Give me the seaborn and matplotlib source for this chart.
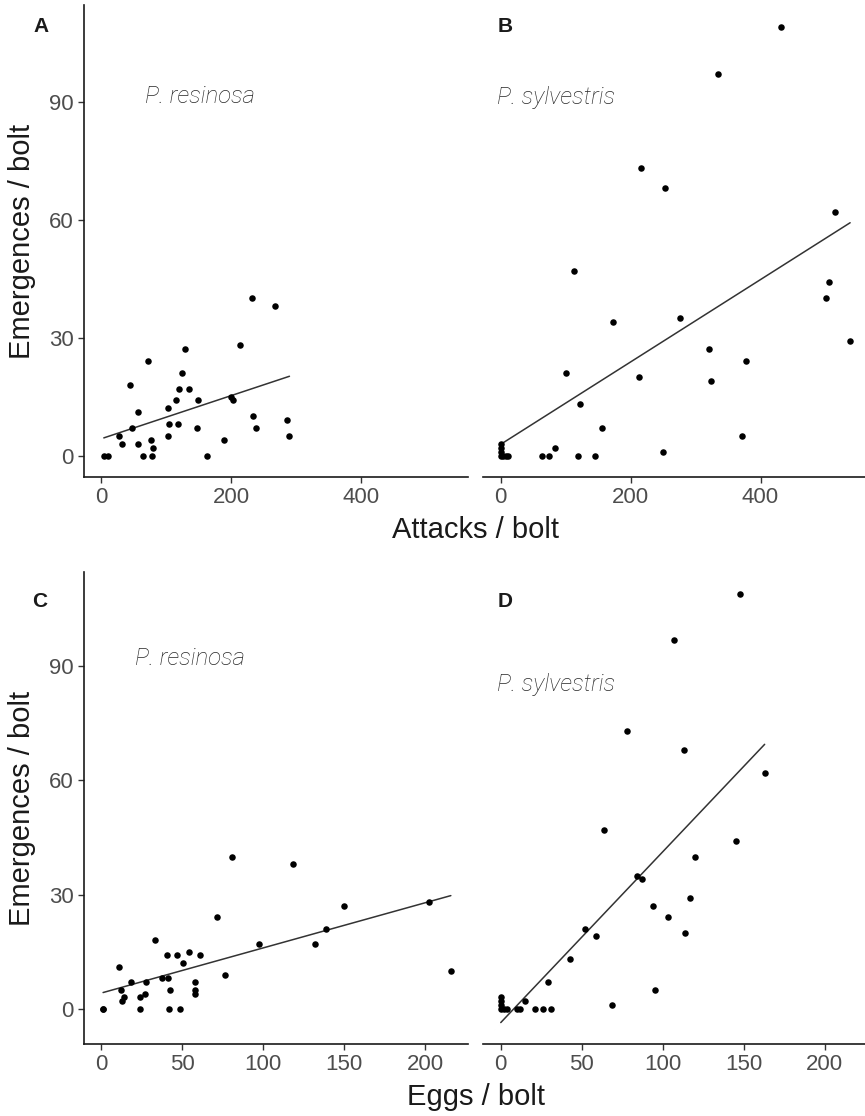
import numpy as np
import matplotlib
matplotlib.use("Agg")
import matplotlib.pyplot as plt
import seaborn as sns

# ---------------- data ----------------
attacks_res = [3.6, 9.7, 27, 32, 44.5, 46.5, 57, 57, 64, 71.6, 75.7, 77.7, 79, 102, 102, 104,
               114.6, 117.6, 118.7, 124, 129.4, 134.5, 147, 149, 162.7, 188.7, 199.5, 203, 214,
               232, 233, 238, 267, 285, 289.5]
emerg_res_a = [0, 0, 5, 3, 18, 7, 11, 3, 0, 24, 4, 0, 2, 12, 5, 8, 14, 8, 17, 21, 27, 17, 7, 14,
               0, 4, 15, 14, 28, 40, 10, 7, 38, 9, 5]

attacks_syl = [432, 335, 216, 253, 515, 113, 505, 501, 173, 276, 538, 321, 378, 101, 213, 324,
               122, 156, 372, 250, 83, 63, 75, 119, 145, 0, 0, 0, 0, 4, 8, 11]
emerg_syl_b = [109, 97, 73, 68, 62, 47, 44, 40, 34, 35, 29, 27, 24, 21, 20, 19, 13, 7, 5, 1, 2,
               0, 0, 0, 0, 0, 1, 2, 3, 0, 0, 0]

eggs_res = [1, 1, 11.1, 12.1, 12.7, 13.7, 18, 23.8, 23.6, 26.7, 27.5, 33, 37.1, 41, 40.4, 42.5,
            42, 46.6, 48.8, 50.3, 54.2, 57.6, 58, 57.8, 60.7, 71.2, 76.5, 80.4, 97.4, 118.6,
            131.9, 138.7, 149.7, 202.5, 215.8]
emerg_res_c = [0, 0, 11, 5, 2, 3, 7, 0, 3, 4, 7, 18, 8, 8, 14, 5, 0, 14, 0, 12, 15, 7, 5, 4, 14,
               24, 9, 40, 17, 38, 17, 21, 27, 28, 10]

eggs_syl = [148, 107, 78, 113, 163, 64, 145, 120, 84, 87, 117, 94, 103, 114, 52, 59, 43, 29, 95,
            68.5, 15, 10, 12, 21, 26, 31, 0, 0, 0, 0, 2, 4]
emerg_syl_d = [109, 97, 73, 68, 62, 47, 44, 40, 35, 34, 29, 27, 24, 20, 21, 19, 13, 7, 5, 1, 2,
               0, 0, 0, 0, 0, 0, 1, 2, 3, 0, 0]

panel_letters = ["A", "B", "C", "D"]
species = ["P. resinosa", "P. sylvestris", "P. resinosa", "P. sylvestris"]
y_ticks = [0, 30, 60, 90]
x_ticks_top = [0, 200, 400]
x_ticks_bottom = [0, 50, 100, 150, 200]
x_title_top = "Attacks / bolt"
x_title_bottom = "Eggs / bolt"
y_title = "Emergences / bolt"

# ---------------- style ----------------
sns.set_theme(style="white")
plt.rcParams["font.family"] = ["Liberation Sans", "DejaVu Sans"]

W, H = 865, 1116
fig = plt.figure(figsize=(W / 100, H / 100), dpi=100)


def px_axes(left, top, width, height):
    return fig.add_axes([left / W, (H - top - height) / H, width / W, height / H])


def expand(vals, mult=0.05):
    lo, hi = min(vals), max(vals)
    pad = (hi - lo) * mult
    return lo - pad, hi + pad


def fit_ends(x, y):
    b, a = np.polyfit(x, y, 1)
    return [a + b * min(x), a + b * max(x)]


panel_h = 471.6
axA = px_axes(84, 5.4, 384.3, panel_h)
axB = px_axes(483.3, 5.4, 384.3, panel_h)
axC = px_axes(84, 572.4, 384.3, panel_h)
axD = px_axes(483.3, 572.4, 384.3, panel_h)

datasets = [
    (axA, attacks_res, emerg_res_a),
    (axB, attacks_syl, emerg_syl_b),
    (axC, eggs_res, emerg_res_c),
    (axD, eggs_syl, emerg_syl_d),
]

xl_top = expand(attacks_res + attacks_syl)
xl_bot = expand(eggs_res + eggs_syl)
yv_top = emerg_res_a + emerg_syl_b + fit_ends(attacks_res, emerg_res_a) + fit_ends(attacks_syl, emerg_syl_b)
yv_bot = emerg_res_c + emerg_syl_d + fit_ends(eggs_res, emerg_res_c) + fit_ends(eggs_syl, emerg_syl_d)
yl_top = expand(yv_top)
yl_bot = expand(yv_bot)

for i, (ax, x, y) in enumerate(datasets):
    sns.regplot(x=np.array(x, float), y=np.array(y, float), ax=ax, ci=None, truncate=True,
                scatter_kws=dict(s=22, color="#000000", alpha=1, linewidths=0, zorder=3),
                line_kws=dict(color="#333333", linewidth=1.1, zorder=2))
    top = i < 2
    ax.set_xlim(*(xl_top if top else xl_bot))
    ax.set_ylim(*(yl_top if top else yl_bot))
    ax.set_xticks(x_ticks_top if top else x_ticks_bottom)
    ax.set_yticks(y_ticks)
    ax.set_xlabel("")
    ax.set_ylabel("")
    ax.set_facecolor("white")
    for s in ["top", "right"]:
        ax.spines[s].set_visible(False)
    for s in ["bottom", "left"]:
        ax.spines[s].set_color("#1a1a1a")
        ax.spines[s].set_linewidth(1.2)
    ax.tick_params(axis="both", direction="out", length=4.5, width=1.0, color="#333333",
                   labelsize=16, labelcolor="#4d4d4d", pad=3, bottom=True, left=True)
    if i % 2 == 1:
        ax.spines["left"].set_visible(False)
        ax.tick_params(axis="y", left=False, labelleft=False)
    ax.grid(False)

# species annotations
ann_pos = [(67, 91.2), (-5.7, 91.1), (21, 92), (-2.3, 85.3)]
for (ax, _, _), sp, (ax_x, ax_y) in zip(datasets, species, ann_pos):
    ax.text(ax_x, ax_y, sp, style="italic", fontsize=17.3, color="#262626",
            family=["Roboto", "Liberation Sans"], fontweight="light",
            ha="left", va="center")

# panel letters
letter_pos = [(41, 26), (505, 26), (40, 601.5), (505, 601.5)]
for lt, (lx, ly) in zip(panel_letters, letter_pos):
    fig.text(lx / W, 1 - ly / H, lt, fontsize=15, fontweight="bold", color="#1a1a1a",
             ha="center", va="center")

# axis titles
fig.text(476 / W, 1 - 530 / H, x_title_top, fontsize=21, ha="center", va="center", color="#1a1a1a")
fig.text(476 / W, 1 - 1097 / H, x_title_bottom, fontsize=21, ha="center", va="center", color="#1a1a1a")
fig.text(22 / W, 1 - 241 / H, y_title, fontsize=21, rotation=90, ha="center", va="center", color="#1a1a1a")
fig.text(22 / W, 1 - 808 / H, y_title, fontsize=21, rotation=90, ha="center", va="center", color="#1a1a1a")

fig.savefig("out.png", dpi=100, facecolor="white")
